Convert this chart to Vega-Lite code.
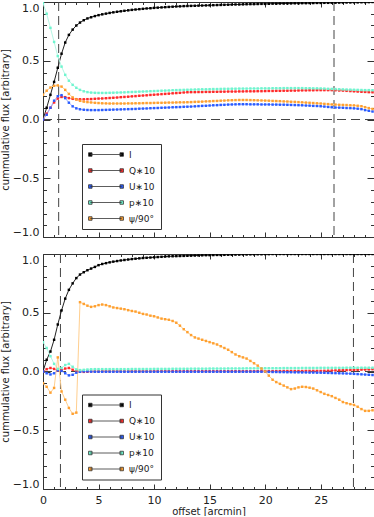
{
"$schema":"https://vega.github.io/schema/vega-lite/v6.json",
"padding":{"left":0,"top":1,"right":0,"bottom":0},
"background":"white",
"spacing":15,
"config":{
"view":{"stroke":null},
"axis":{"grid":false,"domainColor":"#333","domainWidth":1,"tickColor":"#333","tickWidth":1,"labelColor":"#222","titleColor":"#222","labelFont":"DejaVu Sans","titleFont":"DejaVu Sans","labelFontSize":11,"titleFontSize":10,"titleFontWeight":"normal"},
"legend":{"strokeColor":"#333","padding":5,"rowPadding":5,"symbolType":"M-0.44,0H5.84M-0.79,-0.35h0.7v0.7h-0.7zM5.49,-0.35h0.7v0.7h-0.7z","symbolSize":100,"symbolStrokeColor":"#333","symbolStrokeWidth":0.8,"labelOffset":31,"labelFont":"DejaVu Sans","labelFontSize":9,"labelColor":"#222","fillColor":"white"}
},
"resolve":{"scale":{"color":"independent","stroke":"independent"},"legend":{"color":"independent"}},
"datasets":{
"vtop":[{"x":1.41},{"x":26.2}],
"vbot":[{"x":1.57},{"x":27.95}],
"top":[
{"s":"I","x":0,"y":0},{"s":"I","x":0.33,"y":0.1},{"s":"I","x":0.67,"y":0.21},{"s":"I","x":1,"y":0.32},{"s":"I","x":1.33,"y":0.44},{"s":"I","x":1.67,"y":0.56},{"s":"I","x":2,"y":0.655},{"s":"I","x":2.33,"y":0.72},{"s":"I","x":2.67,"y":0.765},{"s":"I","x":3,"y":0.8},
{"s":"I","x":3.33,"y":0.825},{"s":"I","x":3.67,"y":0.845},{"s":"I","x":4,"y":0.86},{"s":"I","x":4.33,"y":0.87},{"s":"I","x":4.67,"y":0.88},{"s":"I","x":5,"y":0.888},{"s":"I","x":5.33,"y":0.895},{"s":"I","x":5.67,"y":0.901},{"s":"I","x":6,"y":0.907},{"s":"I","x":6.33,"y":0.912},
{"s":"I","x":6.67,"y":0.917},{"s":"I","x":7,"y":0.921},{"s":"I","x":7.33,"y":0.925},{"s":"I","x":7.67,"y":0.929},{"s":"I","x":8,"y":0.933},{"s":"I","x":8.33,"y":0.936},{"s":"I","x":8.67,"y":0.939},{"s":"I","x":9,"y":0.942},{"s":"I","x":9.33,"y":0.945},{"s":"I","x":9.67,"y":0.947},
{"s":"I","x":10,"y":0.95},{"s":"I","x":10.33,"y":0.952},{"s":"I","x":10.67,"y":0.954},{"s":"I","x":11,"y":0.956},{"s":"I","x":11.33,"y":0.958},{"s":"I","x":11.67,"y":0.96},{"s":"I","x":12,"y":0.962},{"s":"I","x":12.33,"y":0.963},{"s":"I","x":12.67,"y":0.965},{"s":"I","x":13,"y":0.966},
{"s":"I","x":13.33,"y":0.967},{"s":"I","x":13.67,"y":0.968},{"s":"I","x":14,"y":0.969},{"s":"I","x":14.33,"y":0.97},{"s":"I","x":14.67,"y":0.971},{"s":"I","x":15,"y":0.972},{"s":"I","x":15.33,"y":0.973},{"s":"I","x":15.67,"y":0.974},{"s":"I","x":16,"y":0.975},{"s":"I","x":16.33,"y":0.976},
{"s":"I","x":16.67,"y":0.977},{"s":"I","x":17,"y":0.978},{"s":"I","x":17.33,"y":0.979},{"s":"I","x":17.67,"y":0.979},{"s":"I","x":18,"y":0.98},{"s":"I","x":18.33,"y":0.981},{"s":"I","x":18.67,"y":0.982},{"s":"I","x":19,"y":0.982},{"s":"I","x":19.33,"y":0.983},{"s":"I","x":19.67,"y":0.984},
{"s":"I","x":20,"y":0.984},{"s":"I","x":20.33,"y":0.985},{"s":"I","x":20.67,"y":0.986},{"s":"I","x":21,"y":0.986},{"s":"I","x":21.33,"y":0.987},{"s":"I","x":21.67,"y":0.987},{"s":"I","x":22,"y":0.988},{"s":"I","x":22.33,"y":0.988},{"s":"I","x":22.67,"y":0.989},{"s":"I","x":23,"y":0.989},
{"s":"I","x":23.33,"y":0.99},{"s":"I","x":23.67,"y":0.99},{"s":"I","x":24,"y":0.991},{"s":"I","x":24.33,"y":0.991},{"s":"I","x":24.67,"y":0.992},{"s":"I","x":25,"y":0.992},{"s":"I","x":25.33,"y":0.993},{"s":"I","x":25.67,"y":0.993},{"s":"I","x":26,"y":0.994},{"s":"I","x":26.33,"y":0.994},
{"s":"I","x":26.67,"y":0.995},{"s":"I","x":27,"y":0.995},{"s":"I","x":27.33,"y":0.996},{"s":"I","x":27.67,"y":0.996},{"s":"I","x":28,"y":0.997},{"s":"I","x":28.33,"y":0.997},{"s":"I","x":28.67,"y":0.998},{"s":"I","x":29,"y":0.998},{"s":"I","x":29.33,"y":0.999},{"s":"I","x":29.67,"y":1},
{"s":"Q","x":0,"y":0},{"s":"Q","x":0.33,"y":0.05},{"s":"Q","x":0.67,"y":0.1},{"s":"Q","x":1,"y":0.145},{"s":"Q","x":1.33,"y":0.178},{"s":"Q","x":1.67,"y":0.192},{"s":"Q","x":2,"y":0.19},{"s":"Q","x":2.33,"y":0.182},{"s":"Q","x":2.67,"y":0.176},{"s":"Q","x":3,"y":0.173},
{"s":"Q","x":3.33,"y":0.172},{"s":"Q","x":3.67,"y":0.172},{"s":"Q","x":4,"y":0.173},{"s":"Q","x":4.33,"y":0.174},{"s":"Q","x":4.67,"y":0.176},{"s":"Q","x":5,"y":0.178},{"s":"Q","x":5.33,"y":0.179},{"s":"Q","x":5.67,"y":0.181},{"s":"Q","x":6,"y":0.183},{"s":"Q","x":6.33,"y":0.185},
{"s":"Q","x":6.67,"y":0.187},{"s":"Q","x":7,"y":0.19},{"s":"Q","x":7.33,"y":0.192},{"s":"Q","x":7.67,"y":0.194},{"s":"Q","x":8,"y":0.197},{"s":"Q","x":8.33,"y":0.199},{"s":"Q","x":8.67,"y":0.202},{"s":"Q","x":9,"y":0.204},{"s":"Q","x":9.33,"y":0.206},{"s":"Q","x":9.67,"y":0.209},
{"s":"Q","x":10,"y":0.211},{"s":"Q","x":10.33,"y":0.213},{"s":"Q","x":10.67,"y":0.216},{"s":"Q","x":11,"y":0.218},{"s":"Q","x":11.33,"y":0.22},{"s":"Q","x":11.67,"y":0.223},{"s":"Q","x":12,"y":0.225},{"s":"Q","x":12.33,"y":0.227},{"s":"Q","x":12.67,"y":0.23},{"s":"Q","x":13,"y":0.232},
{"s":"Q","x":13.33,"y":0.233},{"s":"Q","x":13.67,"y":0.233},{"s":"Q","x":14,"y":0.234},{"s":"Q","x":14.33,"y":0.234},{"s":"Q","x":14.67,"y":0.235},{"s":"Q","x":15,"y":0.235},{"s":"Q","x":15.33,"y":0.236},{"s":"Q","x":15.67,"y":0.236},{"s":"Q","x":16,"y":0.237},{"s":"Q","x":16.33,"y":0.237},
{"s":"Q","x":16.67,"y":0.238},{"s":"Q","x":17,"y":0.238},{"s":"Q","x":17.33,"y":0.238},{"s":"Q","x":17.67,"y":0.239},{"s":"Q","x":18,"y":0.239},{"s":"Q","x":18.33,"y":0.24},{"s":"Q","x":18.67,"y":0.24},{"s":"Q","x":19,"y":0.24},{"s":"Q","x":19.33,"y":0.241},{"s":"Q","x":19.67,"y":0.241},
{"s":"Q","x":20,"y":0.242},{"s":"Q","x":20.33,"y":0.243},{"s":"Q","x":20.67,"y":0.243},{"s":"Q","x":21,"y":0.244},{"s":"Q","x":21.33,"y":0.244},{"s":"Q","x":21.67,"y":0.245},{"s":"Q","x":22,"y":0.245},{"s":"Q","x":22.33,"y":0.246},{"s":"Q","x":22.67,"y":0.246},{"s":"Q","x":23,"y":0.247},
{"s":"Q","x":23.33,"y":0.248},{"s":"Q","x":23.67,"y":0.248},{"s":"Q","x":24,"y":0.249},{"s":"Q","x":24.33,"y":0.249},{"s":"Q","x":24.67,"y":0.25},{"s":"Q","x":25,"y":0.25},{"s":"Q","x":25.33,"y":0.25},{"s":"Q","x":25.67,"y":0.25},{"s":"Q","x":26,"y":0.25},{"s":"Q","x":26.33,"y":0.249},
{"s":"Q","x":26.67,"y":0.247},{"s":"Q","x":27,"y":0.246},{"s":"Q","x":27.33,"y":0.244},{"s":"Q","x":27.67,"y":0.242},{"s":"Q","x":28,"y":0.24},{"s":"Q","x":28.33,"y":0.238},{"s":"Q","x":28.67,"y":0.236},{"s":"Q","x":29,"y":0.235},{"s":"Q","x":29.33,"y":0.233},{"s":"Q","x":29.67,"y":0.232},
{"s":"U","x":0,"y":0},{"s":"U","x":0.33,"y":0.04},{"s":"U","x":0.67,"y":0.1},{"s":"U","x":1,"y":0.16},{"s":"U","x":1.33,"y":0.198},{"s":"U","x":1.67,"y":0.207},{"s":"U","x":2,"y":0.182},{"s":"U","x":2.33,"y":0.143},{"s":"U","x":2.67,"y":0.112},{"s":"U","x":3,"y":0.095},
{"s":"U","x":3.33,"y":0.087},{"s":"U","x":3.67,"y":0.083},{"s":"U","x":4,"y":0.081},{"s":"U","x":4.33,"y":0.08},{"s":"U","x":4.67,"y":0.08},{"s":"U","x":5,"y":0.08},{"s":"U","x":5.33,"y":0.081},{"s":"U","x":5.67,"y":0.082},{"s":"U","x":6,"y":0.083},{"s":"U","x":6.33,"y":0.084},
{"s":"U","x":6.67,"y":0.085},{"s":"U","x":7,"y":0.086},{"s":"U","x":7.33,"y":0.087},{"s":"U","x":7.67,"y":0.088},{"s":"U","x":8,"y":0.089},{"s":"U","x":8.33,"y":0.09},{"s":"U","x":8.67,"y":0.092},{"s":"U","x":9,"y":0.093},{"s":"U","x":9.33,"y":0.094},{"s":"U","x":9.67,"y":0.096},
{"s":"U","x":10,"y":0.097},{"s":"U","x":10.33,"y":0.098},{"s":"U","x":10.67,"y":0.1},{"s":"U","x":11,"y":0.101},{"s":"U","x":11.33,"y":0.102},{"s":"U","x":11.67,"y":0.104},{"s":"U","x":12,"y":0.105},{"s":"U","x":12.33,"y":0.106},{"s":"U","x":12.67,"y":0.108},{"s":"U","x":13,"y":0.109},
{"s":"U","x":13.33,"y":0.11},{"s":"U","x":13.67,"y":0.112},{"s":"U","x":14,"y":0.114},{"s":"U","x":14.33,"y":0.116},{"s":"U","x":14.67,"y":0.117},{"s":"U","x":15,"y":0.119},{"s":"U","x":15.33,"y":0.121},{"s":"U","x":15.67,"y":0.122},{"s":"U","x":16,"y":0.124},{"s":"U","x":16.33,"y":0.125},
{"s":"U","x":16.67,"y":0.127},{"s":"U","x":17,"y":0.128},{"s":"U","x":17.33,"y":0.129},{"s":"U","x":17.67,"y":0.13},{"s":"U","x":18,"y":0.13},{"s":"U","x":18.33,"y":0.13},{"s":"U","x":18.67,"y":0.129},{"s":"U","x":19,"y":0.129},{"s":"U","x":19.33,"y":0.129},{"s":"U","x":19.67,"y":0.128},
{"s":"U","x":20,"y":0.128},{"s":"U","x":20.33,"y":0.128},{"s":"U","x":20.67,"y":0.127},{"s":"U","x":21,"y":0.127},{"s":"U","x":21.33,"y":0.126},{"s":"U","x":21.67,"y":0.126},{"s":"U","x":22,"y":0.125},{"s":"U","x":22.33,"y":0.124},{"s":"U","x":22.67,"y":0.123},{"s":"U","x":23,"y":0.122},
{"s":"U","x":23.33,"y":0.121},{"s":"U","x":23.67,"y":0.119},{"s":"U","x":24,"y":0.118},{"s":"U","x":24.33,"y":0.116},{"s":"U","x":24.67,"y":0.115},{"s":"U","x":25,"y":0.113},{"s":"U","x":25.33,"y":0.11},{"s":"U","x":25.67,"y":0.107},{"s":"U","x":26,"y":0.104},{"s":"U","x":26.33,"y":0.102},
{"s":"U","x":26.67,"y":0.101},{"s":"U","x":27,"y":0.1},{"s":"U","x":27.33,"y":0.098},{"s":"U","x":27.67,"y":0.097},{"s":"U","x":28,"y":0.095},{"s":"U","x":28.33,"y":0.092},{"s":"U","x":28.67,"y":0.088},{"s":"U","x":29,"y":0.08},{"s":"U","x":29.33,"y":0.074},{"s":"U","x":29.67,"y":0.068},
{"s":"p","x":0,"y":0.99},{"s":"p","x":0.33,"y":0.9},{"s":"p","x":0.67,"y":0.78},{"s":"p","x":1,"y":0.66},{"s":"p","x":1.33,"y":0.54},{"s":"p","x":1.67,"y":0.45},{"s":"p","x":2,"y":0.38},{"s":"p","x":2.33,"y":0.33},{"s":"p","x":2.67,"y":0.295},{"s":"p","x":3,"y":0.27},
{"s":"p","x":3.33,"y":0.252},{"s":"p","x":3.67,"y":0.24},{"s":"p","x":4,"y":0.233},{"s":"p","x":4.33,"y":0.229},{"s":"p","x":4.67,"y":0.227},{"s":"p","x":5,"y":0.226},{"s":"p","x":5.33,"y":0.226},{"s":"p","x":5.67,"y":0.226},{"s":"p","x":6,"y":0.227},{"s":"p","x":6.33,"y":0.228},
{"s":"p","x":6.67,"y":0.229},{"s":"p","x":7,"y":0.23},{"s":"p","x":7.33,"y":0.231},{"s":"p","x":7.67,"y":0.233},{"s":"p","x":8,"y":0.234},{"s":"p","x":8.33,"y":0.235},{"s":"p","x":8.67,"y":0.237},{"s":"p","x":9,"y":0.238},{"s":"p","x":9.33,"y":0.239},{"s":"p","x":9.67,"y":0.241},
{"s":"p","x":10,"y":0.242},{"s":"p","x":10.33,"y":0.243},{"s":"p","x":10.67,"y":0.245},{"s":"p","x":11,"y":0.246},{"s":"p","x":11.33,"y":0.247},{"s":"p","x":11.67,"y":0.249},{"s":"p","x":12,"y":0.25},{"s":"p","x":12.33,"y":0.251},{"s":"p","x":12.67,"y":0.252},{"s":"p","x":13,"y":0.253},
{"s":"p","x":13.33,"y":0.254},{"s":"p","x":13.67,"y":0.255},{"s":"p","x":14,"y":0.256},{"s":"p","x":14.33,"y":0.257},{"s":"p","x":14.67,"y":0.257},{"s":"p","x":15,"y":0.258},{"s":"p","x":15.33,"y":0.259},{"s":"p","x":15.67,"y":0.259},{"s":"p","x":16,"y":0.26},{"s":"p","x":16.33,"y":0.261},
{"s":"p","x":16.67,"y":0.261},{"s":"p","x":17,"y":0.262},{"s":"p","x":17.33,"y":0.262},{"s":"p","x":17.67,"y":0.263},{"s":"p","x":18,"y":0.263},{"s":"p","x":18.33,"y":0.263},{"s":"p","x":18.67,"y":0.264},{"s":"p","x":19,"y":0.264},{"s":"p","x":19.33,"y":0.264},{"s":"p","x":19.67,"y":0.265},
{"s":"p","x":20,"y":0.265},{"s":"p","x":20.33,"y":0.265},{"s":"p","x":20.67,"y":0.266},{"s":"p","x":21,"y":0.266},{"s":"p","x":21.33,"y":0.266},{"s":"p","x":21.67,"y":0.267},{"s":"p","x":22,"y":0.267},{"s":"p","x":22.33,"y":0.267},{"s":"p","x":22.67,"y":0.267},{"s":"p","x":23,"y":0.267},
{"s":"p","x":23.33,"y":0.267},{"s":"p","x":23.67,"y":0.266},{"s":"p","x":24,"y":0.266},{"s":"p","x":24.33,"y":0.265},{"s":"p","x":24.67,"y":0.265},{"s":"p","x":25,"y":0.264},{"s":"p","x":25.33,"y":0.263},{"s":"p","x":25.67,"y":0.261},{"s":"p","x":26,"y":0.26},{"s":"p","x":26.33,"y":0.259},
{"s":"p","x":26.67,"y":0.257},{"s":"p","x":27,"y":0.256},{"s":"p","x":27.33,"y":0.255},{"s":"p","x":27.67,"y":0.254},{"s":"p","x":28,"y":0.253},{"s":"p","x":28.33,"y":0.252},{"s":"p","x":28.67,"y":0.251},{"s":"p","x":29,"y":0.25},{"s":"p","x":29.33,"y":0.25},{"s":"p","x":29.67,"y":0.249},
{"s":"a","x":0,"y":0.21},{"s":"a","x":0.33,"y":0.245},{"s":"a","x":0.67,"y":0.272},{"s":"a","x":1,"y":0.287},{"s":"a","x":1.33,"y":0.29},{"s":"a","x":1.67,"y":0.28},{"s":"a","x":2,"y":0.252},{"s":"a","x":2.33,"y":0.218},{"s":"a","x":2.67,"y":0.188},{"s":"a","x":3,"y":0.17},
{"s":"a","x":3.33,"y":0.159},{"s":"a","x":3.67,"y":0.152},{"s":"a","x":4,"y":0.148},{"s":"a","x":4.33,"y":0.145},{"s":"a","x":4.67,"y":0.142},{"s":"a","x":5,"y":0.14},{"s":"a","x":5.33,"y":0.138},{"s":"a","x":5.67,"y":0.137},{"s":"a","x":6,"y":0.136},{"s":"a","x":6.33,"y":0.136},
{"s":"a","x":6.67,"y":0.136},{"s":"a","x":7,"y":0.136},{"s":"a","x":7.33,"y":0.136},{"s":"a","x":7.67,"y":0.137},{"s":"a","x":8,"y":0.137},{"s":"a","x":8.33,"y":0.138},{"s":"a","x":8.67,"y":0.138},{"s":"a","x":9,"y":0.139},{"s":"a","x":9.33,"y":0.14},{"s":"a","x":9.67,"y":0.14},
{"s":"a","x":10,"y":0.141},{"s":"a","x":10.33,"y":0.142},{"s":"a","x":10.67,"y":0.142},{"s":"a","x":11,"y":0.143},{"s":"a","x":11.33,"y":0.144},{"s":"a","x":11.67,"y":0.144},{"s":"a","x":12,"y":0.145},{"s":"a","x":12.33,"y":0.146},{"s":"a","x":12.67,"y":0.146},{"s":"a","x":13,"y":0.147},
{"s":"a","x":13.33,"y":0.148},{"s":"a","x":13.67,"y":0.15},{"s":"a","x":14,"y":0.151},{"s":"a","x":14.33,"y":0.152},{"s":"a","x":14.67,"y":0.154},{"s":"a","x":15,"y":0.155},{"s":"a","x":15.33,"y":0.157},{"s":"a","x":15.67,"y":0.158},{"s":"a","x":16,"y":0.16},{"s":"a","x":16.33,"y":0.161},
{"s":"a","x":16.67,"y":0.163},{"s":"a","x":17,"y":0.164},{"s":"a","x":17.33,"y":0.165},{"s":"a","x":17.67,"y":0.166},{"s":"a","x":18,"y":0.166},{"s":"a","x":18.33,"y":0.166},{"s":"a","x":18.67,"y":0.165},{"s":"a","x":19,"y":0.164},{"s":"a","x":19.33,"y":0.163},{"s":"a","x":19.67,"y":0.162},
{"s":"a","x":20,"y":0.161},{"s":"a","x":20.33,"y":0.16},{"s":"a","x":20.67,"y":0.158},{"s":"a","x":21,"y":0.157},{"s":"a","x":21.33,"y":0.156},{"s":"a","x":21.67,"y":0.154},{"s":"a","x":22,"y":0.153},{"s":"a","x":22.33,"y":0.151},{"s":"a","x":22.67,"y":0.15},{"s":"a","x":23,"y":0.148},
{"s":"a","x":23.33,"y":0.146},{"s":"a","x":23.67,"y":0.144},{"s":"a","x":24,"y":0.142},{"s":"a","x":24.33,"y":0.14},{"s":"a","x":24.67,"y":0.138},{"s":"a","x":25,"y":0.136},{"s":"a","x":25.33,"y":0.133},{"s":"a","x":25.67,"y":0.131},{"s":"a","x":26,"y":0.128},{"s":"a","x":26.33,"y":0.127},
{"s":"a","x":26.67,"y":0.125},{"s":"a","x":27,"y":0.124},{"s":"a","x":27.33,"y":0.123},{"s":"a","x":27.67,"y":0.121},{"s":"a","x":28,"y":0.12},{"s":"a","x":28.33,"y":0.117},{"s":"a","x":28.67,"y":0.113},{"s":"a","x":29,"y":0.105},{"s":"a","x":29.33,"y":0.097},{"s":"a","x":29.67,"y":0.09}
],
"bot":[
{"s":"I","x":0,"y":0},{"s":"I","x":0.33,"y":0.1},{"s":"I","x":0.67,"y":0.17},{"s":"I","x":1,"y":0.27},{"s":"I","x":1.33,"y":0.4},{"s":"I","x":1.67,"y":0.52},{"s":"I","x":2,"y":0.62},{"s":"I","x":2.33,"y":0.695},{"s":"I","x":2.67,"y":0.75},{"s":"I","x":3,"y":0.795},
{"s":"I","x":3.33,"y":0.825},{"s":"I","x":3.67,"y":0.845},{"s":"I","x":4,"y":0.862},{"s":"I","x":4.33,"y":0.876},{"s":"I","x":4.67,"y":0.89},{"s":"I","x":5,"y":0.905},{"s":"I","x":5.33,"y":0.915},{"s":"I","x":5.67,"y":0.922},{"s":"I","x":6,"y":0.929},{"s":"I","x":6.33,"y":0.935},
{"s":"I","x":6.67,"y":0.94},{"s":"I","x":7,"y":0.945},{"s":"I","x":7.33,"y":0.949},{"s":"I","x":7.67,"y":0.953},{"s":"I","x":8,"y":0.957},{"s":"I","x":8.33,"y":0.96},{"s":"I","x":8.67,"y":0.963},{"s":"I","x":9,"y":0.966},{"s":"I","x":9.33,"y":0.968},{"s":"I","x":9.67,"y":0.97},
{"s":"I","x":10,"y":0.972},{"s":"I","x":10.33,"y":0.974},{"s":"I","x":10.67,"y":0.976},{"s":"I","x":11,"y":0.978},{"s":"I","x":11.33,"y":0.98},{"s":"I","x":11.67,"y":0.981},{"s":"I","x":12,"y":0.982},{"s":"I","x":12.33,"y":0.983},{"s":"I","x":12.67,"y":0.984},{"s":"I","x":13,"y":0.985},
{"s":"I","x":13.33,"y":0.986},{"s":"I","x":13.67,"y":0.987},{"s":"I","x":14,"y":0.988},{"s":"I","x":14.33,"y":0.989},{"s":"I","x":14.67,"y":0.99},{"s":"I","x":15,"y":0.99},{"s":"I","x":15.33,"y":0.991},{"s":"I","x":15.67,"y":0.992},{"s":"I","x":16,"y":0.992},{"s":"I","x":16.33,"y":0.993},
{"s":"I","x":16.67,"y":0.994},{"s":"I","x":17,"y":0.994},{"s":"I","x":17.33,"y":0.995},{"s":"I","x":17.67,"y":0.995},{"s":"I","x":18,"y":0.996},{"s":"I","x":18.33,"y":0.996},{"s":"I","x":18.67,"y":0.997},{"s":"I","x":19,"y":0.997},{"s":"I","x":19.33,"y":0.998},{"s":"I","x":19.67,"y":0.998},
{"s":"I","x":20,"y":0.999},{"s":"I","x":20.33,"y":0.999},{"s":"I","x":20.67,"y":1},{"s":"I","x":21,"y":1},{"s":"I","x":21.33,"y":1},{"s":"I","x":21.67,"y":1},{"s":"I","x":22,"y":1},{"s":"I","x":22.33,"y":1},{"s":"I","x":22.67,"y":1},{"s":"I","x":23,"y":1},
{"s":"I","x":23.33,"y":1},{"s":"I","x":23.67,"y":1},{"s":"I","x":24,"y":1},{"s":"I","x":24.33,"y":1},{"s":"I","x":24.67,"y":1},{"s":"I","x":25,"y":1},{"s":"I","x":25.33,"y":1},{"s":"I","x":25.67,"y":1},{"s":"I","x":26,"y":1},{"s":"I","x":26.33,"y":1},
{"s":"I","x":26.67,"y":1},{"s":"I","x":27,"y":1},{"s":"I","x":27.33,"y":1},{"s":"I","x":27.67,"y":1},{"s":"I","x":28,"y":1},{"s":"I","x":28.33,"y":1},{"s":"I","x":28.67,"y":1},{"s":"I","x":29,"y":1},{"s":"I","x":29.33,"y":1},{"s":"I","x":29.67,"y":1},
{"s":"Q","x":0,"y":0},{"s":"Q","x":0.33,"y":0.02},{"s":"Q","x":0.67,"y":0.03},{"s":"Q","x":1,"y":0.022},{"s":"Q","x":1.33,"y":0.008},{"s":"Q","x":1.67,"y":0.012},{"s":"Q","x":2,"y":0.025},{"s":"Q","x":2.33,"y":0.03},{"s":"Q","x":2.67,"y":0.015},{"s":"Q","x":3,"y":0.003},
{"s":"Q","x":3.33,"y":-0.002},{"s":"Q","x":3.67,"y":-0.003},{"s":"Q","x":4,"y":-0.002},{"s":"Q","x":4.33,"y":0},{"s":"Q","x":4.67,"y":0.001},{"s":"Q","x":5,"y":0.001},{"s":"Q","x":5.33,"y":0.002},{"s":"Q","x":5.67,"y":0.002},{"s":"Q","x":6,"y":0.002},{"s":"Q","x":6.33,"y":0.002},
{"s":"Q","x":6.67,"y":0.002},{"s":"Q","x":7,"y":0.002},{"s":"Q","x":7.33,"y":0.002},{"s":"Q","x":7.67,"y":0.002},{"s":"Q","x":8,"y":0.002},{"s":"Q","x":8.33,"y":0.002},{"s":"Q","x":8.67,"y":0.002},{"s":"Q","x":9,"y":0.002},{"s":"Q","x":9.33,"y":0.002},{"s":"Q","x":9.67,"y":0.002},
{"s":"Q","x":10,"y":0.002},{"s":"Q","x":10.33,"y":0.002},{"s":"Q","x":10.67,"y":0.003},{"s":"Q","x":11,"y":0.003},{"s":"Q","x":11.33,"y":0.003},{"s":"Q","x":11.67,"y":0.002},{"s":"Q","x":12,"y":0.002},{"s":"Q","x":12.33,"y":0.002},{"s":"Q","x":12.67,"y":0.002},{"s":"Q","x":13,"y":0.002},
{"s":"Q","x":13.33,"y":0.002},{"s":"Q","x":13.67,"y":0.002},{"s":"Q","x":14,"y":0.002},{"s":"Q","x":14.33,"y":0.002},{"s":"Q","x":14.67,"y":0.002},{"s":"Q","x":15,"y":0.002},{"s":"Q","x":15.33,"y":0.002},{"s":"Q","x":15.67,"y":0.002},{"s":"Q","x":16,"y":0.002},{"s":"Q","x":16.33,"y":0.002},
{"s":"Q","x":16.67,"y":0.002},{"s":"Q","x":17,"y":0.002},{"s":"Q","x":17.33,"y":0.002},{"s":"Q","x":17.67,"y":0.002},{"s":"Q","x":18,"y":0.002},{"s":"Q","x":18.33,"y":0.002},{"s":"Q","x":18.67,"y":0.002},{"s":"Q","x":19,"y":0.002},{"s":"Q","x":19.33,"y":0.003},{"s":"Q","x":19.67,"y":0.003},
{"s":"Q","x":20,"y":0.003},{"s":"Q","x":20.33,"y":0.003},{"s":"Q","x":20.67,"y":0.003},{"s":"Q","x":21,"y":0.003},{"s":"Q","x":21.33,"y":0.003},{"s":"Q","x":21.67,"y":0.004},{"s":"Q","x":22,"y":0.004},{"s":"Q","x":22.33,"y":0.004},{"s":"Q","x":22.67,"y":0.004},{"s":"Q","x":23,"y":0.004},
{"s":"Q","x":23.33,"y":0.004},{"s":"Q","x":23.67,"y":0.005},{"s":"Q","x":24,"y":0.005},{"s":"Q","x":24.33,"y":0.005},{"s":"Q","x":24.67,"y":0.005},{"s":"Q","x":25,"y":0.005},{"s":"Q","x":25.33,"y":0.006},{"s":"Q","x":25.67,"y":0.007},{"s":"Q","x":26,"y":0.008},{"s":"Q","x":26.33,"y":0.009},
{"s":"Q","x":26.67,"y":0.01},{"s":"Q","x":27,"y":0.011},{"s":"Q","x":27.33,"y":0.012},{"s":"Q","x":27.67,"y":0.013},{"s":"Q","x":28,"y":0.014},{"s":"Q","x":28.33,"y":0.015},{"s":"Q","x":28.67,"y":0.016},{"s":"Q","x":29,"y":0.017},{"s":"Q","x":29.33,"y":0.018},{"s":"Q","x":29.67,"y":0.02},
{"s":"U","x":0,"y":0},{"s":"U","x":0.33,"y":-0.015},{"s":"U","x":0.67,"y":-0.025},{"s":"U","x":1,"y":-0.015},{"s":"U","x":1.33,"y":0.01},{"s":"U","x":1.67,"y":0.005},{"s":"U","x":2,"y":-0.015},{"s":"U","x":2.33,"y":-0.033},{"s":"U","x":2.67,"y":-0.028},{"s":"U","x":3,"y":-0.01},
{"s":"U","x":3.33,"y":-0.002},{"s":"U","x":3.67,"y":0.001},{"s":"U","x":4,"y":0.001},{"s":"U","x":4.33,"y":-0.001},{"s":"U","x":4.67,"y":-0.002},{"s":"U","x":5,"y":-0.002},{"s":"U","x":5.33,"y":-0.002},{"s":"U","x":5.67,"y":-0.002},{"s":"U","x":6,"y":-0.002},{"s":"U","x":6.33,"y":-0.002},
{"s":"U","x":6.67,"y":-0.002},{"s":"U","x":7,"y":-0.002},{"s":"U","x":7.33,"y":-0.002},{"s":"U","x":7.67,"y":-0.002},{"s":"U","x":8,"y":-0.002},{"s":"U","x":8.33,"y":-0.002},{"s":"U","x":8.67,"y":-0.002},{"s":"U","x":9,"y":-0.002},{"s":"U","x":9.33,"y":-0.002},{"s":"U","x":9.67,"y":-0.002},
{"s":"U","x":10,"y":-0.002},{"s":"U","x":10.33,"y":-0.002},{"s":"U","x":10.67,"y":-0.002},{"s":"U","x":11,"y":-0.002},{"s":"U","x":11.33,"y":-0.002},{"s":"U","x":11.67,"y":-0.002},{"s":"U","x":12,"y":-0.002},{"s":"U","x":12.33,"y":-0.002},{"s":"U","x":12.67,"y":-0.002},{"s":"U","x":13,"y":-0.002},
{"s":"U","x":13.33,"y":-0.002},{"s":"U","x":13.67,"y":-0.002},{"s":"U","x":14,"y":-0.002},{"s":"U","x":14.33,"y":-0.002},{"s":"U","x":14.67,"y":-0.002},{"s":"U","x":15,"y":-0.002},{"s":"U","x":15.33,"y":-0.002},{"s":"U","x":15.67,"y":-0.002},{"s":"U","x":16,"y":-0.002},{"s":"U","x":16.33,"y":-0.002},
{"s":"U","x":16.67,"y":-0.002},{"s":"U","x":17,"y":-0.002},{"s":"U","x":17.33,"y":-0.002},{"s":"U","x":17.67,"y":-0.002},{"s":"U","x":18,"y":-0.002},{"s":"U","x":18.33,"y":-0.002},{"s":"U","x":18.67,"y":-0.002},{"s":"U","x":19,"y":-0.002},{"s":"U","x":19.33,"y":-0.002},{"s":"U","x":19.67,"y":-0.002},
{"s":"U","x":20,"y":-0.002},{"s":"U","x":20.33,"y":-0.003},{"s":"U","x":20.67,"y":-0.004},{"s":"U","x":21,"y":-0.004},{"s":"U","x":21.33,"y":-0.005},{"s":"U","x":21.67,"y":-0.005},{"s":"U","x":22,"y":-0.006},{"s":"U","x":22.33,"y":-0.006},{"s":"U","x":22.67,"y":-0.007},{"s":"U","x":23,"y":-0.007},
{"s":"U","x":23.33,"y":-0.008},{"s":"U","x":23.67,"y":-0.008},{"s":"U","x":24,"y":-0.009},{"s":"U","x":24.33,"y":-0.009},{"s":"U","x":24.67,"y":-0.01},{"s":"U","x":25,"y":-0.01},{"s":"U","x":25.33,"y":-0.011},{"s":"U","x":25.67,"y":-0.012},{"s":"U","x":26,"y":-0.013},{"s":"U","x":26.33,"y":-0.014},
{"s":"U","x":26.67,"y":-0.015},{"s":"U","x":27,"y":-0.016},{"s":"U","x":27.33,"y":-0.017},{"s":"U","x":27.67,"y":-0.018},{"s":"U","x":28,"y":-0.02},{"s":"U","x":28.33,"y":-0.022},{"s":"U","x":28.67,"y":-0.024},{"s":"U","x":29,"y":-0.026},{"s":"U","x":29.33,"y":-0.028},{"s":"U","x":29.67,"y":-0.03},
{"s":"p","x":0,"y":0.25},{"s":"p","x":0.33,"y":0.2},{"s":"p","x":0.67,"y":0.13},{"s":"p","x":1,"y":0.065},{"s":"p","x":1.33,"y":0.022},{"s":"p","x":1.67,"y":0.03},{"s":"p","x":2,"y":0.055},{"s":"p","x":2.33,"y":0.065},{"s":"p","x":2.67,"y":0.04},{"s":"p","x":3,"y":0.018},
{"s":"p","x":3.33,"y":0.012},{"s":"p","x":3.67,"y":0.014},{"s":"p","x":4,"y":0.017},{"s":"p","x":4.33,"y":0.019},{"s":"p","x":4.67,"y":0.02},{"s":"p","x":5,"y":0.02},{"s":"p","x":5.33,"y":0.02},{"s":"p","x":5.67,"y":0.02},{"s":"p","x":6,"y":0.02},{"s":"p","x":6.33,"y":0.02},
{"s":"p","x":6.67,"y":0.02},{"s":"p","x":7,"y":0.02},{"s":"p","x":7.33,"y":0.02},{"s":"p","x":7.67,"y":0.02},{"s":"p","x":8,"y":0.021},{"s":"p","x":8.33,"y":0.021},{"s":"p","x":8.67,"y":0.021},{"s":"p","x":9,"y":0.021},{"s":"p","x":9.33,"y":0.021},{"s":"p","x":9.67,"y":0.021},
{"s":"p","x":10,"y":0.022},{"s":"p","x":10.33,"y":0.022},{"s":"p","x":10.67,"y":0.022},{"s":"p","x":11,"y":0.022},{"s":"p","x":11.33,"y":0.022},{"s":"p","x":11.67,"y":0.023},{"s":"p","x":12,"y":0.023},{"s":"p","x":12.33,"y":0.023},{"s":"p","x":12.67,"y":0.023},{"s":"p","x":13,"y":0.023},
{"s":"p","x":13.33,"y":0.024},{"s":"p","x":13.67,"y":0.024},{"s":"p","x":14,"y":0.024},{"s":"p","x":14.33,"y":0.024},{"s":"p","x":14.67,"y":0.024},{"s":"p","x":15,"y":0.025},{"s":"p","x":15.33,"y":0.025},{"s":"p","x":15.67,"y":0.025},{"s":"p","x":16,"y":0.025},{"s":"p","x":16.33,"y":0.025},
{"s":"p","x":16.67,"y":0.026},{"s":"p","x":17,"y":0.026},{"s":"p","x":17.33,"y":0.026},{"s":"p","x":17.67,"y":0.026},{"s":"p","x":18,"y":0.026},{"s":"p","x":18.33,"y":0.027},{"s":"p","x":18.67,"y":0.027},{"s":"p","x":19,"y":0.027},{"s":"p","x":19.33,"y":0.027},{"s":"p","x":19.67,"y":0.027},
{"s":"p","x":20,"y":0.028},{"s":"p","x":20.33,"y":0.028},{"s":"p","x":20.67,"y":0.028},{"s":"p","x":21,"y":0.028},{"s":"p","x":21.33,"y":0.028},{"s":"p","x":21.67,"y":0.029},{"s":"p","x":22,"y":0.029},{"s":"p","x":22.33,"y":0.029},{"s":"p","x":22.67,"y":0.029},{"s":"p","x":23,"y":0.029},
{"s":"p","x":23.33,"y":0.03},{"s":"p","x":23.67,"y":0.03},{"s":"p","x":24,"y":0.03},{"s":"p","x":24.33,"y":0.03},{"s":"p","x":24.67,"y":0.03},{"s":"p","x":25,"y":0.031},{"s":"p","x":25.33,"y":0.031},{"s":"p","x":25.67,"y":0.031},{"s":"p","x":26,"y":0.031},{"s":"p","x":26.33,"y":0.031},
{"s":"p","x":26.67,"y":0.031},{"s":"p","x":27,"y":0.031},{"s":"p","x":27.33,"y":0.032},{"s":"p","x":27.67,"y":0.032},{"s":"p","x":28,"y":0.032},{"s":"p","x":28.33,"y":0.032},{"s":"p","x":28.67,"y":0.032},{"s":"p","x":29,"y":0.032},{"s":"p","x":29.33,"y":0.032},{"s":"p","x":29.67,"y":0.032},
{"s":"a","x":0,"y":-0.1},{"s":"a","x":0.33,"y":-0.13},{"s":"a","x":0.67,"y":-0.18},{"s":"a","x":1,"y":-0.14},{"s":"a","x":1.33,"y":0.12},{"s":"a","x":1.67,"y":-0.17},{"s":"a","x":2,"y":-0.24},{"s":"a","x":2.33,"y":-0.31},{"s":"a","x":2.67,"y":-0.36},{"s":"a","x":3,"y":-0.35},
{"s":"a","x":3.33,"y":0.59},{"s":"a","x":3.67,"y":0.575},{"s":"a","x":4,"y":0.56},{"s":"a","x":4.33,"y":0.55},{"s":"a","x":4.67,"y":0.555},{"s":"a","x":5,"y":0.565},{"s":"a","x":5.33,"y":0.57},{"s":"a","x":5.67,"y":0.565},{"s":"a","x":6,"y":0.555},{"s":"a","x":6.33,"y":0.545},
{"s":"a","x":6.67,"y":0.54},{"s":"a","x":7,"y":0.535},{"s":"a","x":7.33,"y":0.53},{"s":"a","x":7.67,"y":0.522},{"s":"a","x":8,"y":0.515},{"s":"a","x":8.33,"y":0.51},{"s":"a","x":8.67,"y":0.5},{"s":"a","x":9,"y":0.49},{"s":"a","x":9.33,"y":0.485},{"s":"a","x":9.67,"y":0.475},
{"s":"a","x":10,"y":0.47},{"s":"a","x":10.33,"y":0.46},{"s":"a","x":10.67,"y":0.45},{"s":"a","x":11,"y":0.445},{"s":"a","x":11.33,"y":0.44},{"s":"a","x":11.67,"y":0.43},{"s":"a","x":12,"y":0.415},{"s":"a","x":12.33,"y":0.39},{"s":"a","x":12.67,"y":0.36},{"s":"a","x":13,"y":0.335},
{"s":"a","x":13.33,"y":0.31},{"s":"a","x":13.67,"y":0.29},{"s":"a","x":14,"y":0.28},{"s":"a","x":14.33,"y":0.27},{"s":"a","x":14.67,"y":0.26},{"s":"a","x":15,"y":0.25},{"s":"a","x":15.33,"y":0.24},{"s":"a","x":15.67,"y":0.23},{"s":"a","x":16,"y":0.215},{"s":"a","x":16.33,"y":0.2},
{"s":"a","x":16.67,"y":0.185},{"s":"a","x":17,"y":0.165},{"s":"a","x":17.33,"y":0.145},{"s":"a","x":17.67,"y":0.13},{"s":"a","x":18,"y":0.12},{"s":"a","x":18.33,"y":0.11},{"s":"a","x":18.67,"y":0.09},{"s":"a","x":19,"y":0.07},{"s":"a","x":19.33,"y":0.05},{"s":"a","x":19.67,"y":0.025},
{"s":"a","x":20,"y":0},{"s":"a","x":20.33,"y":-0.035},{"s":"a","x":20.67,"y":-0.07},{"s":"a","x":21,"y":-0.09},{"s":"a","x":21.33,"y":-0.105},{"s":"a","x":21.67,"y":-0.12},{"s":"a","x":22,"y":-0.135},{"s":"a","x":22.33,"y":-0.15},{"s":"a","x":22.67,"y":-0.145},{"s":"a","x":23,"y":-0.135},
{"s":"a","x":23.33,"y":-0.13},{"s":"a","x":23.67,"y":-0.132},{"s":"a","x":24,"y":-0.138},{"s":"a","x":24.33,"y":-0.145},{"s":"a","x":24.67,"y":-0.16},{"s":"a","x":25,"y":-0.175},{"s":"a","x":25.33,"y":-0.19},{"s":"a","x":25.67,"y":-0.2},{"s":"a","x":26,"y":-0.21},{"s":"a","x":26.33,"y":-0.225},
{"s":"a","x":26.67,"y":-0.24},{"s":"a","x":27,"y":-0.26},{"s":"a","x":27.33,"y":-0.27},{"s":"a","x":27.67,"y":-0.278},{"s":"a","x":28,"y":-0.285},{"s":"a","x":28.33,"y":-0.3},{"s":"a","x":28.67,"y":-0.32},{"s":"a","x":29,"y":-0.335},{"s":"a","x":29.33,"y":-0.335},{"s":"a","x":29.67,"y":-0.33}
]
},
"vconcat":[
{
"width":331,"height":235,
"resolve":{"axis":{"x":"independent","y":"independent"}},
"layer":[
{"data":{"values":[{}]},"mark":{"type":"rule","color":"#444","strokeDash":[9,5],"strokeWidth":1},
"encoding":{
"y":{"datum":0,"type":"quantitative","scale":{"domain":[-1,1],"nice":false,"zero":false},"axis":{"orient":"right","values":[-1,-0.5,0,0.5,1],"tickSize":-7,"labels":false,"title":null,"domain":true}},
"x":{"datum":0,"type":"quantitative","scale":{"domain":[0,29.8],"nice":false,"zero":false},"axis":{"orient":"top","values":[1,2,3,4,6,7,8,9,11,12,13,14,16,17,18,19,21,22,23,24,26,27,28,29],"tickSize":-2.5,"labels":false,"title":null,"domain":false}},
"x2":{"datum":29.8}}},
{"data":{"name":"vtop"},"mark":{"type":"rule","color":"#444","strokeDash":[9,5],"strokeWidth":1},
"encoding":{
"x":{"field":"x","type":"quantitative","scale":{"domain":[0,29.8],"nice":false,"zero":false},"axis":{"orient":"top","values":[0,5,10,15,20,25],"tickSize":-5,"labels":false,"title":null,"domain":true}},
"y":{"datum":1,"type":"quantitative","scale":{"domain":[-1,1],"nice":false,"zero":false},"axis":{"orient":"right","values":[-0.9,-0.8,-0.7,-0.6,-0.4,-0.3,-0.2,-0.1,0.1,0.2,0.3,0.4,0.6,0.7,0.8,0.9],"tickSize":-3.5,"labels":false,"title":null,"domain":false}},
"y2":{"datum":-1}}},
{"data":{"name":"top"},"mark":{"type":"line","strokeWidth":1,"clip":true},
"encoding":{
"x":{"field":"x","type":"quantitative","scale":{"domain":[0,29.8],"nice":false,"zero":false},"axis":{"orient":"bottom","values":[0,5,10,15,20,25],"tickSize":-5,"labels":false,"title":null,"domain":true}},
"y":{"field":"y","type":"quantitative","scale":{"domain":[-1,1],"nice":false,"zero":false},"axis":{"orient":"left","values":[-1,-0.5,0,0.5,1],"format":".1f","tickSize":-7,"labelPadding":11,"labelFlush":true,"title":"cummulative flux [arbitrary]","titlePadding":2,"domain":true}},
"stroke":{"field":"s","type":"nominal","scale":{"domain":["a","p","U","Q","I"],"range":["#ffcf8f","#b5f7e4","#9ab0ff","#ff9a9a","#222222"]},"legend":null}}},
{"data":{"name":"top"},"mark":{"type":"point","shape":"square","filled":true,"size":6,"opacity":1,"clip":true},
"encoding":{
"x":{"field":"x","type":"quantitative","scale":{"domain":[0,29.8],"nice":false,"zero":false},"axis":{"orient":"bottom","values":[1,2,3,4,6,7,8,9,11,12,13,14,16,17,18,19,21,22,23,24,26,27,28,29],"tickSize":-2.5,"labels":false,"title":null,"domain":false}},
"y":{"field":"y","type":"quantitative","scale":{"domain":[-1,1],"nice":false,"zero":false},"axis":{"orient":"left","values":[-0.9,-0.8,-0.7,-0.6,-0.4,-0.3,-0.2,-0.1,0.1,0.2,0.3,0.4,0.6,0.7,0.8,0.9],"tickSize":-3.5,"labels":false,"title":null,"domain":false}},
"color":{"field":"s","type":"nominal","scale":{"domain":["I","Q","U","p","a"],"range":["#000000","#ff2a2a","#2a5cff","#6ff5cf","#ffa030"]},
"legend":{"title":null,"orient":"none","legendX":39,"legendY":142,"labelExpr":"datum.label == 'Q' ? 'Q∗10' : datum.label == 'U' ? 'U∗10' : datum.label == 'p' ? 'p∗10' : datum.label == 'a' ? 'ψ/90°' : datum.label"}}}}
]
},
{
"width":331,"height":235,
"resolve":{"axis":{"x":"independent","y":"independent"}},
"layer":[
{"data":{"values":[{}]},"mark":{"type":"rule","color":"#444","strokeDash":[9,5],"strokeWidth":1},
"encoding":{
"y":{"datum":0,"type":"quantitative","scale":{"domain":[-1,1],"nice":false,"zero":false},"axis":{"orient":"right","values":[-1,-0.5,0,0.5,1],"tickSize":-7,"labels":false,"title":null,"domain":true}},
"x":{"datum":0,"type":"quantitative","scale":{"domain":[0,29.8],"nice":false,"zero":false},"axis":{"orient":"top","values":[1,2,3,4,6,7,8,9,11,12,13,14,16,17,18,19,21,22,23,24,26,27,28,29],"tickSize":-2.5,"labels":false,"title":null,"domain":false}},
"x2":{"datum":29.8}}},
{"data":{"name":"vbot"},"mark":{"type":"rule","color":"#444","strokeDash":[9,5],"strokeWidth":1},
"encoding":{
"x":{"field":"x","type":"quantitative","scale":{"domain":[0,29.8],"nice":false,"zero":false},"axis":{"orient":"top","values":[0,5,10,15,20,25],"tickSize":-5,"labels":false,"title":null,"domain":true}},
"y":{"datum":1,"type":"quantitative","scale":{"domain":[-1,1],"nice":false,"zero":false},"axis":{"orient":"right","values":[-0.9,-0.8,-0.7,-0.6,-0.4,-0.3,-0.2,-0.1,0.1,0.2,0.3,0.4,0.6,0.7,0.8,0.9],"tickSize":-3.5,"labels":false,"title":null,"domain":false}},
"y2":{"datum":-1}}},
{"data":{"name":"bot"},"mark":{"type":"line","strokeWidth":1,"clip":true},
"encoding":{
"x":{"field":"x","type":"quantitative","scale":{"domain":[0,29.8],"nice":false,"zero":false},"axis":{"orient":"bottom","values":[0,5,10,15,20,25],"format":"d","tickSize":-5,"labels":true,"labelFlush":false,"labelPadding":10,"title":"offset [arcmin]","titlePadding":1,"domain":true}},
"y":{"field":"y","type":"quantitative","scale":{"domain":[-1,1],"nice":false,"zero":false},"axis":{"orient":"left","values":[-1,-0.5,0,0.5,1],"format":".1f","tickSize":-7,"labelPadding":11,"labelFlush":true,"title":"cummulative flux [arbitrary]","titlePadding":2,"domain":true}},
"stroke":{"field":"s","type":"nominal","scale":{"domain":["a","p","U","Q","I"],"range":["#ffcf8f","#b5f7e4","#9ab0ff","#ff9a9a","#222222"]},"legend":null}}},
{"data":{"name":"bot"},"mark":{"type":"point","shape":"square","filled":true,"size":6,"opacity":1,"clip":true},
"encoding":{
"x":{"field":"x","type":"quantitative","scale":{"domain":[0,29.8],"nice":false,"zero":false},"axis":{"orient":"bottom","values":[1,2,3,4,6,7,8,9,11,12,13,14,16,17,18,19,21,22,23,24,26,27,28,29],"tickSize":-2.5,"labels":false,"title":null,"domain":false}},
"y":{"field":"y","type":"quantitative","scale":{"domain":[-1,1],"nice":false,"zero":false},"axis":{"orient":"left","values":[-0.9,-0.8,-0.7,-0.6,-0.4,-0.3,-0.2,-0.1,0.1,0.2,0.3,0.4,0.6,0.7,0.8,0.9],"tickSize":-3.5,"labels":false,"title":null,"domain":false}},
"color":{"field":"s","type":"nominal","scale":{"domain":["I","Q","U","p","a"],"range":["#000000","#ff2a2a","#2a5cff","#6ff5cf","#ffa030"]},
"legend":{"title":null,"orient":"none","legendX":39,"legendY":140.5,"labelExpr":"datum.label == 'Q' ? 'Q∗10' : datum.label == 'U' ? 'U∗10' : datum.label == 'p' ? 'p∗10' : datum.label == 'a' ? 'ψ/90°' : datum.label"}}}}
]
}
]
}
